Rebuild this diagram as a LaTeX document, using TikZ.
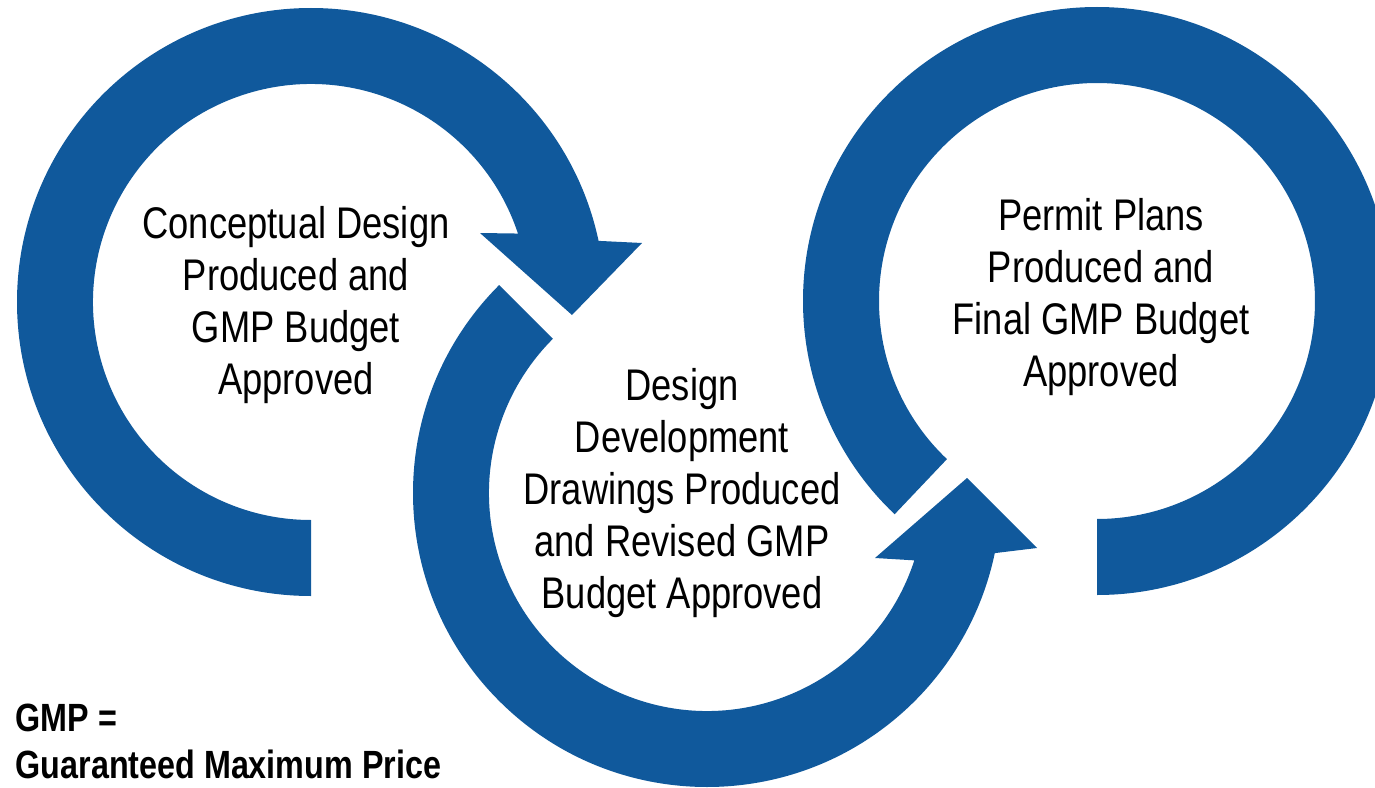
\documentclass[tikz,border=0pt]{standalone}
\usepackage{fontspec}
\setmainfont{Liberation Sans}[FakeStretch=0.82]
\usetikzlibrary{calc}
\definecolor{ringblue}{RGB}{16,89,156}

\begin{document}
\begin{tikzpicture}[x=0.01cm, y=0.01cm,
    ring/.style={fill=ringblue, draw=none},
    steptext/.style={align=center, inner sep=0pt, font=\fontsize{12.6}{14.8}\selectfont}]
    \useasboundingbox (0,0) rectangle (1375,787);

    \coordinate (c1) at (311, 485);
    \coordinate (c2) at (707, 294);
    \coordinate (c3) at (1097, 486);

    \fill[ring] ($(c1)+(270:294)$) arc[start angle=270, end angle=12, radius=294]
        -- (642, 544) -- (572, 472) -- (480, 554)
        -- ($(c1)+(18.3:218)$) arc[start angle=18.3, end angle=270, radius=218] -- cycle;
    \fill[ring] ($(c2)+(135:294)$) arc[start angle=135, end angle=348.2, radius=294]
        -- (1037, 239) -- (967, 309) -- (875, 229)
        -- ($(c2)+(342:218)$) arc[start angle=342, end angle=135, radius=218] -- cycle;
    \fill[ring] ($(c3)+(-90:294)$) arc[start angle=-90, end angle=226.5, radius=294]
        -- ($(c3)+(226.5:218)$) arc[start angle=226.5, end angle=-90, radius=218] -- cycle;

    \node[steptext] (concept) at (296, 482) {Conceptual Design\\Produced and\\GMP Budget\\Approved};
    \node[steptext] (develop) at (682, 294) {Design\\Development\\Drawings Produced\\and Revised GMP\\Budget Approved};
    \node[steptext] (permit) at (1101, 490) {Permit Plans\\Produced and\\Final GMP Budget\\Approved};
    \node[anchor=west, align=left, inner sep=0pt, font=\bfseries\fontsize{11.2}{13.4}\selectfont] (gmp) at (15, 46) {GMP =\\Guaranteed Maximum Price};
\end{tikzpicture}
\end{document}
